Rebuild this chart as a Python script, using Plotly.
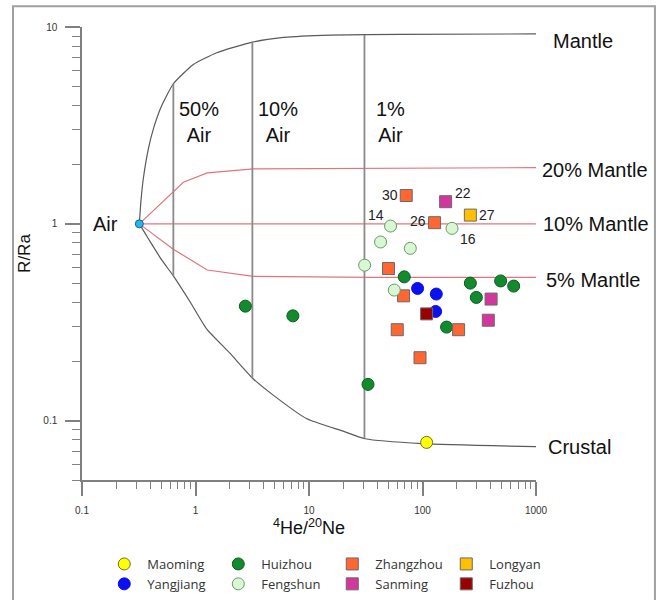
import math
import plotly.graph_objects as go

# ---------------- data ----------------
maoming_x = [108.7]
maoming_y = [0.0776]

huizhou_x = [2.75, 7.21, 33.1, 69.1, 264, 488, 636, 298, 163]
huizhou_y = [0.382, 0.341, 0.153, 0.538, 0.500, 0.513, 0.483, 0.423, 0.299]

zhangzhou_x = [71.9, 127.8, 50.2, 68.1, 59.9, 208, 95.1]
zhangzhou_y = [1.394, 1.014, 0.593, 0.431, 0.290, 0.290, 0.209]

longyan_x = [264]
longyan_y = [1.108]

yangjiang_x = [90.5, 132.3, 130.5]
yangjiang_y = [0.470, 0.440, 0.359]

fengshun_x = [52.3, 182.0, 42.7, 78.1, 30.9, 56.4]
fengshun_y = [0.975, 0.949, 0.809, 0.751, 0.617, 0.461]

sanming_x = [159.8, 402, 380]
sanming_y = [1.296, 0.415, 0.324]

fuzhou_x = [108.7]
fuzhou_y = [0.349]

air_x = [0.32]
air_y = [1.0]

# sample number labels: (text, series, index in series)
sample_labels = [("30", "Zhangzhou", 0), ("26", "Zhangzhou", 1), ("22", "Sanming", 0),
                 ("27", "Longyan", 0), ("14", "Fengshun", 0), ("16", "Fengshun", 1)]

# mixing curves
mantle_x = [0.32, 0.33, 0.347, 0.384, 0.43, 0.5, 0.638, 0.958, 1.54, 3.17, 5.96, 15.4, 63.7, 1000]
mantle_y = [1.0, 1.29, 1.70, 2.40, 3.10, 3.95, 5.15, 6.45, 7.40, 8.37, 8.85, 9.10, 9.18, 9.22]

crust_x = [0.32, 0.36, 0.40, 0.5, 0.638, 0.9, 1.258, 2.0, 3.18, 5.0, 9.58, 20.0, 31.3, 100, 1000]
crust_y = [1.0, 0.895, 0.81, 0.66, 0.544, 0.40, 0.292, 0.221, 0.1645, 0.133, 0.1023, 0.0885, 0.081, 0.0765, 0.0738]

m20_x = [0.32, 0.782, 1.27, 3.24, 1000]
m20_y = [1.0, 1.628, 1.816, 1.903, 1.93]
m10_x = [0.32, 1000]
m10_y = [1.0, 1.0]
m05_x = [0.32, 0.638, 1.27, 3.24, 34.7, 1000]
m05_y = [1.0, 0.743, 0.583, 0.541, 0.535, 0.535]

airmix_x = [0.638, 3.17, 30.8]
airmix_lo = [0.544, 0.1645, 0.0815]
airmix_hi = [5.15, 8.37, 9.12]
airmix_lbl = ["50%<br>Air", "10%<br>Air", "1%<br>Air"]

x_ticks = [0.1, 1, 10, 100, 1000]
x_ticktext = ["0.1", "1", "10", "100", "1000"]
y_ticks = [0.1, 1, 10]
y_ticktext = ["0.1", "1", "10"]

# --------------------------------------------------------------------------
fig = go.Figure()

CURVE = dict(color="#5a5a5a", width=1.2)
RED = dict(color="#e27480", width=1.2)

fig.add_trace(go.Scatter(x=mantle_x, y=mantle_y, mode="lines", line=dict(**CURVE, shape="spline", smoothing=0.5),
                         showlegend=False, hoverinfo="skip"))
fig.add_trace(go.Scatter(x=crust_x, y=crust_y, mode="lines", line=dict(**CURVE, shape="spline", smoothing=0.5),
                         showlegend=False, hoverinfo="skip"))
for xs, ys in [(m20_x, m20_y), (m10_x, m10_y), (m05_x, m05_y)]:
    fig.add_trace(go.Scatter(x=xs, y=ys, mode="lines", line=RED, showlegend=False, hoverinfo="skip"))

vx, vy = [], []
for x, lo, hi in zip(airmix_x, airmix_lo, airmix_hi):
    vx += [x, x, None]
    vy += [lo, hi, None]
fig.add_trace(go.Scatter(x=vx, y=vy, mode="lines", line=dict(color="#8a8a8a", width=1.8),
                         showlegend=False, hoverinfo="skip"))

fig.add_trace(go.Scatter(x=air_x, y=air_y, mode="markers",
                         marker=dict(size=8, color="#22b8e8", line=dict(color="#1a5f9e", width=1)),
                         showlegend=False, hoverinfo="skip"))

series_data = {}


def series(name, xs, ys, color, edge, symbol):
    series_data[name] = (xs, ys)
    fig.add_trace(go.Scatter(x=xs, y=ys, mode="markers", name=name,
                             marker=dict(size=12, color=color, symbol=symbol,
                                         line=dict(color=edge, width=1))))


series("Maoming", maoming_x, maoming_y, "#ffff00", "#707020", "circle")
series("Huizhou", huizhou_x, huizhou_y, "#128a2e", "#0b5a1e", "circle")
series("Zhangzhou", zhangzhou_x, zhangzhou_y, "#ff6631", "#6a6a6a", "square")
series("Longyan", longyan_x, longyan_y, "#ffc000", "#6a6a6a", "square")
series("Yangjiang", yangjiang_x, yangjiang_y, "#0a10ee", "#0a10ee", "circle")
series("Fengshun", fengshun_x, fengshun_y, "#d8f7d2", "#6a9a6a", "circle")
series("Sanming", sanming_x, sanming_y, "#d4369e", "#6a6a6a", "square")
series("Fuzhou", fuzhou_x, fuzhou_y, "#9a0000", "#6a6a6a", "square")

# ---------------- text labels ----------------
BIG = dict(family="Arial", size=20, color="#111111")
NUMFONT = dict(family="Arial", size=14, color="#222222")
ann = []

label_style = {"30": ("right", -6, 0), "26": ("right", -7, 2), "22": ("left", 7, 9),
               "27": ("left", 7, 0), "14": ("right", -5, 11), "16": ("left", 6, -11)}
for txt, sname, idx in sample_labels:
    xs, ys = series_data[sname]
    anchor, dx, dy = label_style[txt]
    ann.append(dict(x=math.log10(xs[idx]), y=math.log10(ys[idx]), xref="x", yref="y", text=txt,
                    showarrow=False, font=NUMFONT, xanchor=anchor, yanchor="middle",
                    xshift=dx, yshift=dy))

for x, lbl in zip(airmix_x, airmix_lbl):
    ann.append(dict(x=math.log10(x), y=0.848, xref="x", yref="paper", text=lbl, showarrow=False, font=BIG,
                    xanchor="center", yanchor="top", xshift=26, align="center"))

side_labels = [("Mantle", 1.033, 0.969), ("20% Mantle", 1.009, 0.684), ("10% Mantle", 1.011, 0.565),
               ("5% Mantle", 1.018, 0.441), ("Crustal", 1.022, 0.073)]
for t, px, py in side_labels:
    ann.append(dict(x=px, y=py, xref="paper", yref="paper", text=t, showarrow=False, font=BIG,
                    xanchor="left", yanchor="middle"))
ann.append(dict(x=math.log10(air_x[0]), y=math.log10(air_y[0]), xref="x", yref="y", text="Air",
                showarrow=False, font=BIG, xanchor="right", yanchor="middle", xshift=-19))

TICKFONT = dict(family="Arial", size=10, color="#333333")

fig.update_layout(
    width=665, height=600,
    margin=dict(l=82, r=129, t=27, b=120, pad=0, autoexpand=False),
    paper_bgcolor="white", plot_bgcolor="white",
    annotations=ann,
    xaxis=dict(type="log", range=[-1, 3], showline=True, linecolor="#808080", linewidth=1.5,
               ticks="outside", ticklen=14, tickwidth=1.5, tickcolor="#808080",
               tickmode="array", tickvals=x_ticks, ticktext=x_ticktext, tickfont=TICKFONT,
               showgrid=False, zeroline=False, ticklabelstandoff=6,
               minor=dict(ticks="outside", ticklen=7, tickwidth=1.2, tickcolor="#808080",
                          dtick="D1", showgrid=False),
               title=dict(text="<sup>4</sup>He/<sup>20</sup>Ne", font=dict(family="Arial", size=18, color="#111"),
                          standoff=3)),
    yaxis=dict(type="log", range=[-1.301, 1], showline=True, linecolor="#808080", linewidth=1.5,
               ticks="outside", ticklen=15, tickwidth=1.5, tickcolor="#808080",
               tickmode="array", tickvals=y_ticks, ticktext=y_ticktext, tickfont=TICKFONT,
               showgrid=False, zeroline=False, ticklabelstandoff=6,
               minor=dict(ticks="outside", ticklen=8, tickwidth=1.2, tickcolor="#808080",
                          dtick="D1", showgrid=False),
               title=dict(text="R/Ra", font=dict(family="Arial", size=17, color="#111"), standoff=8)),
    legend=dict(orientation="h", xref="container", yref="container",
                x=0.1523, xanchor="left", y=0.085, yanchor="top",
                font=dict(family="Open Sans", size=13, color="#333333"),
                entrywidth=63, itemwidth=36, traceorder="normal", bgcolor="rgba(0,0,0,0)"),
    shapes=[dict(type="rect", xref="paper", yref="paper",
                 x0=-0.152, x1=1.262, y0=-0.276, y1=1.046,
                 line=dict(color="#a0a0a0", width=2), fillcolor="rgba(0,0,0,0)", layer="below")],
)

fig.write_html("out.html")
